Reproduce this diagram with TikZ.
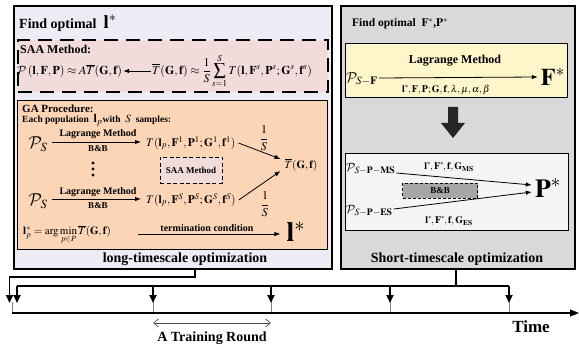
\documentclass[tikz,border=0pt]{standalone}
\usepackage{amsmath}
\usepackage{mathptmx}
\DeclareMathAlphabet{\mathcal}{OMS}{cmsy}{m}{n}
\usepackage{fontspec}
\setmainfont{Liberation Serif}
\usetikzlibrary{arrows.meta,calc}

\definecolor{longbg}{HTML}{EDEBF4}
\definecolor{saabg}{HTML}{F2DCDB}
\definecolor{gabg}{HTML}{FBD5B5}
\definecolor{shortbg}{HTML}{D9D9D9}
\definecolor{ybg}{HTML}{FEF5CB}
\definecolor{wbg}{HTML}{F4F4F4}
\definecolor{bbgray}{HTML}{A6A6A6}
\definecolor{tickgray}{HTML}{808080}

\newcommand{\setfs}[1]{\fontsize{#1}{#1}\selectfont}

\begin{document}
\begin{tikzpicture}[x=1pt,y=-1pt,
  every node/.style={inner sep=1pt},
  panel/.style={draw,line width=1.8pt,anchor=north west},
  inbox/.style={draw,line width=0.9pt,anchor=north west},
  saadash/.style={draw,line width=1.6pt,dash pattern=on 14pt off 8pt,anchor=north west},
  arr/.style={-{Latex[length=6pt,width=4.5pt]},line width=0.8pt},
  lbl/.style={inner sep=0pt,font=\bfseries\setfs{10}},
  conn/.style={line width=1.8pt},
  connarr/.style={line width=1.8pt,-{Triangle[length=8pt,width=7pt]}},
  tick/.style={line width=0.7pt,draw=tickgray}]

\useasboundingbox[fill=white] (0,0) rectangle (579,350);

% ---------------- long-timescale panel ----------------
\node[panel,fill=longbg,minimum width=318pt,minimum height=263pt] (longpanel) at (13,5) {};
\node[anchor=west] (ltitle) at (18,23)
  {\bfseries\setfs{14}Find optimal\ \ {\setfs{19}$\mathbf{l}^{*}$}};

% SAA method
\node[saadash,fill=saabg,minimum width=310pt,minimum height=52pt] (saabox) at (17,39) {};
\node[anchor=west] (saatitle) at (19,49) {\bfseries\setfs{12}SAA Method:};
\node[anchor=west] (saaL) at (16,71)
  {\setfs{12}$\mathcal{P}\left(\mathbf{l},\mathbf{F},\mathbf{P}\right)\approx A\overline{T}(\mathbf{G},\mathbf{f})$};
\node[anchor=west] (saaR) at (151,71)
  {\setfs{12}$\displaystyle\overline{T}(\mathbf{G},\mathbf{f})\approx\frac{1}{S}\sum_{s=1}^{S}T(\mathbf{l},\mathbf{F}^{s},\mathbf{P}^{s};\mathbf{G}^{s},\mathbf{f}^{s})$};
\draw[arr] (saaR.west) -- (saaL.east);

% GA procedure
\node[inbox,fill=gabg,minimum width=310pt,minimum height=149pt] (gabox) at (17,100) {};
\node[anchor=west] (gatitle) at (21,109) {\bfseries\setfs{11}GA Procedure:};
\node[anchor=west] (gaeach) at (21,120)
  {\bfseries\setfs{9.5}Each population\ \ {\setfs{12}$\mathbf{l}_p$}with\ \ {\setfs{11}$S$}\ \ samples:};

% first sample
\node (ps1) at (38,144) {\setfs{17}$\mathcal{P}_S$};
\node[anchor=west] (t1) at (145,143)
  {\setfs{11.5}$T(\mathbf{l}_p,\mathbf{F}^{1},\mathbf{P}^{1};\mathbf{G}^{1},\mathbf{f}^{1})$};
\draw[arr] ([xshift=3pt,yshift=2pt]ps1.east) -- ([xshift=-4pt,yshift=1pt]t1.west);
\node[lbl] (lm1) at (98,134) {Lagrange Method};
\node[lbl,font=\bfseries\setfs{9}] (bb1) at (98,149) {B\&B};

% vertical ellipsis
\fill (93,163) circle (1.7);
\fill (93,169) circle (1.7);
\fill (93,175) circle (1.7);

\node[draw,fill=saabg,line width=0.9pt,dash pattern=on 4pt off 2.5pt,
      minimum width=62pt,minimum height=26pt] (saasmall) at (191,170)
  {\bfseries\setfs{9}SAA Method};

% last sample
\node (ps2) at (38,201) {\setfs{17}$\mathcal{P}_S$};
\node[anchor=west] (t2) at (145,200)
  {\setfs{11.5}$T(\mathbf{l}_p,\mathbf{F}^{S},\mathbf{P}^{S};\mathbf{G}^{S},\mathbf{f}^{S})$};
\draw[arr] ([xshift=3pt,yshift=2pt]ps2.east) -- ([xshift=-4pt,yshift=1pt]t2.west);
\node[lbl] (lm2) at (98,192) {Lagrange Method};
\node[lbl,font=\bfseries\setfs{9}] (bb2) at (98,206) {B\&B};

% averaging
\node (tbar) at (301,165) {\setfs{11}$\overline{T}(\mathbf{G},\mathbf{f})$};
\draw[arr] ([xshift=2pt]t1.east) -- ([xshift=-3pt,yshift=6pt]tbar.west);
\draw[arr] ([xshift=2pt]t2.east) -- ([xshift=-3pt,yshift=-6pt]tbar.west);
\node (frac1) at (264,138) {\setfs{12}$\displaystyle\frac{1}{S}$};
\node (frac2) at (265,204) {\setfs{12}$\displaystyle\frac{1}{S}$};

% selection
\node[anchor=west] (lp) at (22,235)
  {\setfs{11}$\mathbf{l}_p^{*}=\arg\min\limits_{p\in P}\overline{T}(\mathbf{G},\mathbf{f})$};
\node (lstar) at (296,232) {\setfs{28}$\mathbf{l}^{*}$};
\coordinate (termA) at (138,234);
\draw[arr] (termA) -- ([xshift=-5pt]lstar.west |- termA);
\node[lbl] (term) at (207,228) {termination condition};

\node (longlbl) at (185,259) {\bfseries\setfs{14}long-timescale optimization};

% ---------------- short-timescale panel ----------------
\node[panel,fill=shortbg,minimum width=234pt,minimum height=263pt] (shortpanel) at (340,5) {};
\node[anchor=west] (rtitle) at (351,24)
  {\bfseries\setfs{11.5}Find optimal\ \ $\mathbf{F}^{*}$,$\mathbf{P}^{*}$};

% F sub-problem
\node[inbox,fill=ybg,minimum width=222pt,minimum height=54pt] (ybox) at (345,43) {};
\node[anchor=west] (psf) at (345,79) {\setfs{15}$\mathcal{P}_{S-\mathbf{F}}$};
\node (fstar) at (553,77) {\setfs{24}$\mathbf{F}^{*}$};
\draw[arr] ([yshift=1pt]psf.east) -- ([xshift=-2pt]fstar.west);
\node[lbl,font=\bfseries\setfs{12}] (lm3) at (455,61) {Lagrange Method};
\node (fargs) at (446,90)
  {\setfs{10}$\mathbf{l}^{*}\!,\mathbf{F},\mathbf{P};\mathbf{G},\mathbf{f},\lambda,\boldsymbol{\mu},\alpha,\beta$};

% block arrow between the sub-problems
\fill[black!85] (448,107) -- (458,107) -- (458,123) -- (465,123) -- (453,138)
  -- (441,123) -- (448,123) -- cycle;

% P sub-problem
\node[inbox,fill=wbg,minimum width=223pt,minimum height=77pt] (wbox) at (345,153) {};
\node[anchor=west] (pms) at (345,169) {\setfs{13}$\mathcal{P}_{S-\mathbf{P}-\mathbf{MS}}$};
\node[anchor=west] (pes) at (345,211) {\setfs{13}$\mathcal{P}_{S-\mathbf{P}-\mathbf{ES}}$};
\node (pstar) at (548,188) {\setfs{26}$\mathbf{P}^{*}$};
\draw[arr] ([yshift=-4pt]pms.east) -- ([xshift=-2pt,yshift=3pt]pstar.west);
\draw[arr] ([yshift=2pt]pes.east) -- ([xshift=-2pt,yshift=-4pt]pstar.west);
\node (gms) at (449,167) {\setfs{10}$\mathbf{l}^{*}\!,\mathbf{F}^{*}\!,\mathbf{f},\mathbf{G}_{\mathbf{MS}}$};
\node (ges) at (449,221) {\setfs{10}$\mathbf{l}^{*}\!,\mathbf{F}^{*}\!,\mathbf{f},\mathbf{G}_{\mathbf{ES}}$};
\node[draw,fill=bbgray,line width=0.8pt,dash pattern=on 3pt off 2pt,
      minimum width=75pt,minimum height=15pt] (bbbox) at (440,190.5)
  {\bfseries\setfs{9}B\&B};

\node (shortlbl) at (457,259) {\bfseries\setfs{14}Short-timescale optimization};

% ---------------- time line ----------------
\coordinate (lbot) at (195,268);
\coordinate (lturn) at (195,277);
\coordinate (lcorner) at (9.5,277);
\coordinate (lend) at (9.5,303);
\draw[connarr] (lbot) -- (lturn) -- (lcorner) -- (lend);

\coordinate (rbot) at (456,268);
\coordinate (rjoin) at (456,286);
\draw[conn] (rbot) -- (rjoin);
\coordinate (d0) at (17,286);
\coordinate (d4) at (509,286);
\draw[conn] (d0) -- (d4);
\foreach \x/\n in {17/0,153/1,271/2,390/3,509/4}{
  \coordinate (src\n) at (\x,286);
  \coordinate (dst\n) at (\x,303);
  \draw[connarr] (src\n) -- (dst\n);
}
\foreach \x/\n in {12/0,153/1,271/2,390/3,509/4}{
  \coordinate (tk\n) at (\x,302);
  \coordinate (tb\n) at (\x,313);
  \draw[tick] (tk\n) -- (tb\n);
}

\coordinate (ax0) at (12,313);
\coordinate (axm) at (318,313);
\coordinate (ax1) at (579,313);
\draw[line width=1.7pt] (ax0) -- (axm);
\draw[line width=1.1pt,-{Triangle[length=9pt,width=7pt]}] (axm) -- (ax1);
\node (time) at (531,327) {\bfseries\setfs{17}Time};

\coordinate (rnd0) at (153,323);
\coordinate (rnd1) at (271,323);
\draw[line width=0.7pt,draw=black!70,{Straight Barb[length=5pt,width=8pt]}-{Straight Barb[length=5pt,width=8pt]}] (rnd0) -- (rnd1);
\node (round) at (212,338) {\bfseries\setfs{14}A Training Round};
\end{tikzpicture}
\end{document}
